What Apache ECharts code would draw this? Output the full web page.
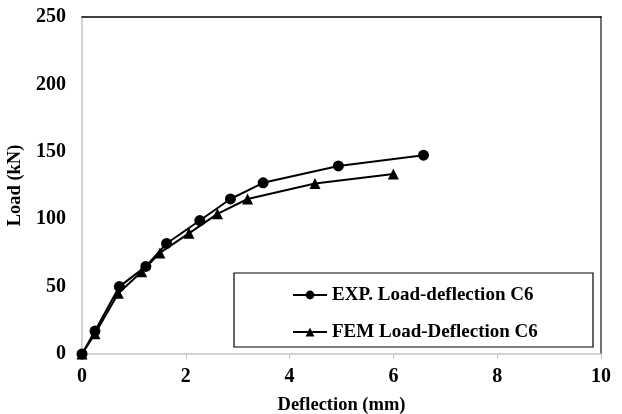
<!DOCTYPE html>
<html>
<head>
<meta charset="UTF-8">
<title>Load-deflection C6</title>
<script src="https://cdn.jsdelivr.net/npm/echarts@6/dist/echarts.min.js"></script>
<style>
  html, body { margin: 0; padding: 0; background: #fff; }
  #main { width: 622px; height: 414px; }
</style>
</head>
<body>
<div id="main"></div>
<script>
// deflection (mm) / load (kN)
var expDefl = [0, 0.25, 0.72, 1.23, 1.63, 2.27, 2.86, 3.49, 4.94, 6.58];
var expLoad = [0, 17, 50, 65, 82, 99, 115, 127, 139.5, 147.5];
var femDefl = [0, 0.25, 0.70, 1.15, 1.50, 2.06, 2.61, 3.19, 4.49, 6.0];
var femLoad = [0, 15, 45, 61, 75, 89.5, 104, 115, 126.5, 133.5];
var seriesNames = ['EXP. Load-deflection C6', 'FEM Load-Deflection C6'];

function pairs(xs, ys) {
    var out = [];
    for (var i = 0; i < xs.length; i++) out.push([xs[i], ys[i]]);
    return out;
}

var font = '"Liberation Serif", "Times New Roman", serif';
var myChart = echarts.init(document.getElementById('main'));
var option = {
    animation: false,
    grid: {
        left: 82, right: 21, top: 17, bottom: 60,
        outerBoundsMode: 'none'
    },
    graphic: [{
        type: 'rect',
        shape: { x: 234, y: 273, width: 359, height: 74 },
        style: { fill: '#fff', stroke: '#000', lineWidth: 1.2 },
        z: 5
    }],
    legend: {
        orient: 'vertical',
        left: 287,
        top: 280,
        itemWidth: 34,
        itemHeight: 11,
        itemGap: 17,
        z: 6,
        textStyle: { fontFamily: font, fontWeight: 'bold', fontSize: 19, color: '#000', lineHeight: 20 },
        data: seriesNames
    },
    xAxis: [{
        type: 'value',
        min: 0, max: 10, interval: 2,
        name: 'Deflection (mm)',
        nameLocation: 'middle',
        nameGap: 42,
        nameTextStyle: { fontFamily: font, fontWeight: 'bold', fontSize: 18.5, color: '#000' },
        axisLine: { show: true, onZero: false, lineStyle: { color: '#c4c4c4', width: 1.5 } },
        axisTick: { show: true, length: 5, lineStyle: { color: '#c4c4c4' } },
        axisLabel: { fontFamily: font, fontWeight: 'bold', fontSize: 20, color: '#000', margin: 13 },
        splitLine: { show: false }
    }, {
        // top frame line
        type: 'value', position: 'top',
        min: 0, max: 10, interval: 2,
        axisLine: { show: true, onZero: false, lineStyle: { color: '#000', width: 1.5 } },
        axisTick: { show: false }, axisLabel: { show: false }, splitLine: { show: false }
    }],
    yAxis: [{
        type: 'value',
        min: 0, max: 250, interval: 50,
        name: 'Load (kN)',
        nameLocation: 'middle',
        nameGap: 52,
        nameTextStyle: { fontFamily: font, fontWeight: 'bold', fontSize: 18.5, color: '#000' },
        axisLine: { show: true, onZero: false, lineStyle: { color: '#c4c4c4', width: 1.5 } },
        axisTick: { show: false },
        axisLabel: { fontFamily: font, fontWeight: 'bold', fontSize: 20, color: '#000', margin: 16 },
        splitLine: { show: false }
    }, {
        // right frame line
        type: 'value', position: 'right',
        min: 0, max: 250, interval: 50,
        axisLine: { show: true, onZero: false, lineStyle: { color: '#444', width: 1.5 } },
        axisTick: { show: false }, axisLabel: { show: false }, splitLine: { show: false }
    }],
    series: [
        {
            name: seriesNames[0],
            type: 'line',
            data: pairs(expDefl, expLoad),
            symbol: 'circle',
            symbolSize: 11,
            itemStyle: { color: '#000' },
            lineStyle: { color: '#000', width: 2 },
            z: 3
        },
        {
            name: seriesNames[1],
            type: 'line',
            data: pairs(femDefl, femLoad),
            symbol: 'triangle',
            symbolSize: 11,
            itemStyle: { color: '#000' },
            lineStyle: { color: '#000', width: 2 },
            z: 3
        }
    ]
};
myChart.setOption(option);
</script>
</body>
</html>
